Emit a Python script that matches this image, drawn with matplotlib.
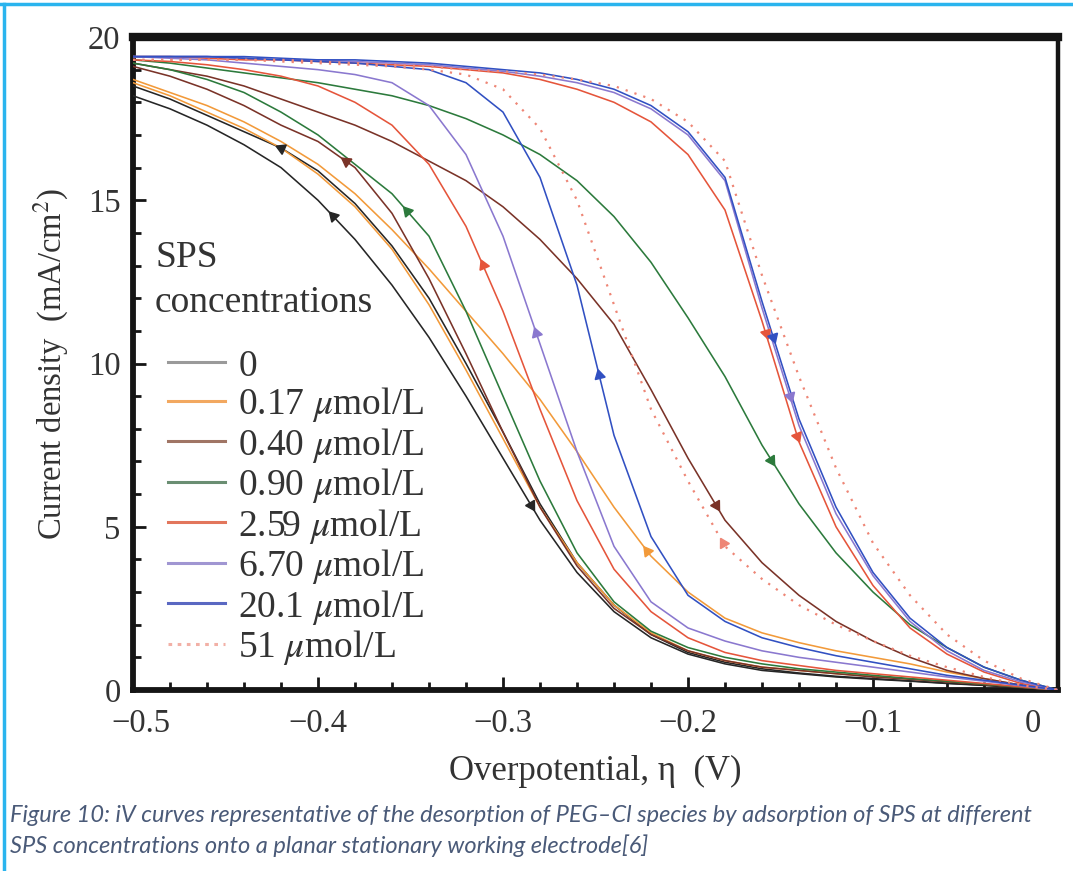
import numpy as np
import matplotlib
matplotlib.use("Agg")
import matplotlib.pyplot as plt
from matplotlib.lines import Line2D
from matplotlib.transforms import ScaledTranslation

plt.rcParams['font.family'] = ['Liberation Serif', 'DejaVu Serif']
plt.rcParams['mathtext.fontset'] = 'stix'

# ---------------- data ----------------
eta = [-0.50, -0.48, -0.46, -0.44, -0.42, -0.40, -0.38, -0.36, -0.34, -0.32,
       -0.30, -0.28, -0.26, -0.24, -0.22, -0.20, -0.18, -0.16, -0.14, -0.12,
       -0.10, -0.08, -0.06, -0.04, -0.02, 0.00]

j0_a = [18.2, 17.8, 17.3, 16.7, 16.0, 15.0, 13.8, 12.4, 10.8, 9.0,
        7.1, 5.2, 3.6, 2.4, 1.6, 1.1, 0.8, 0.6, 0.5, 0.4,
        0.33, 0.27, 0.2, 0.14, 0.07, 0.0]
j0_b = [18.5, 18.1, 17.6, 17.1, 16.6, 15.9, 14.9, 13.6, 12.0, 10.0,
        7.9, 5.7, 3.9, 2.6, 1.7, 1.15, 0.85, 0.65, 0.52, 0.42,
        0.35, 0.28, 0.21, 0.15, 0.08, 0.0]
j017_f = [18.6, 18.2, 17.7, 17.2, 16.6, 15.8, 14.8, 13.5, 11.8, 9.8,
          7.7, 5.6, 3.9, 2.6, 1.75, 1.2, 0.9, 0.7, 0.6, 0.5,
          0.42, 0.34, 0.26, 0.18, 0.09, 0.0]
j017_r = [18.7, 18.3, 17.9, 17.4, 16.8, 16.1, 15.2, 14.1, 12.9, 11.6,
          10.3, 8.9, 7.3, 5.6, 4.1, 3.0, 2.2, 1.75, 1.45, 1.2,
          1.0, 0.8, 0.55, 0.35, 0.15, 0.0]
j040_f = [19.1, 18.8, 18.4, 17.9, 17.3, 16.8, 16.0, 14.6, 12.6, 10.3,
          7.9, 5.6, 3.8, 2.5, 1.7, 1.2, 0.9, 0.7, 0.6, 0.5,
          0.4, 0.33, 0.25, 0.17, 0.08, 0.0]
j040_r = [19.2, 19.0, 18.8, 18.5, 18.1, 17.7, 17.3, 16.8, 16.2, 15.6,
          14.8, 13.8, 12.6, 11.2, 9.2, 7.1, 5.2, 3.9, 2.9, 2.1,
          1.5, 1.0, 0.6, 0.35, 0.15, 0.0]
j090_f = [19.2, 19.0, 18.7, 18.3, 17.7, 17.0, 16.1, 15.2, 13.9, 11.6,
          9.0, 6.4, 4.2, 2.7, 1.8, 1.3, 1.0, 0.8, 0.65, 0.55,
          0.45, 0.35, 0.27, 0.18, 0.09, 0.0]
j090_r = [19.3, 19.2, 19.05, 18.9, 18.75, 18.6, 18.4, 18.2, 17.9, 17.5,
          17.0, 16.4, 15.6, 14.5, 13.1, 11.4, 9.6, 7.5, 5.7, 4.2,
          3.0, 2.0, 1.3, 0.7, 0.3, 0.0]
j259_f = [19.3, 19.25, 19.15, 19.0, 18.8, 18.5, 18.0, 17.3, 16.1, 14.2,
          11.6, 8.6, 5.8, 3.7, 2.4, 1.6, 1.15, 0.9, 0.75, 0.6,
          0.5, 0.4, 0.3, 0.2, 0.1, 0.0]
j259_r = [19.4, 19.4, 19.35, 19.3, 19.3, 19.25, 19.2, 19.15, 19.1, 19.0,
          18.9, 18.7, 18.4, 18.0, 17.4, 16.4, 14.7, 11.3, 7.6, 5.0,
          3.2, 1.9, 1.1, 0.55, 0.2, 0.0]
j670_f = [19.4, 19.35, 19.3, 19.2, 19.1, 19.0, 18.85, 18.6, 17.9, 16.4,
          13.9, 10.6, 7.3, 4.4, 2.7, 1.9, 1.5, 1.2, 1.0, 0.85,
          0.7, 0.55, 0.4, 0.27, 0.13, 0.0]
j670_r = [19.4, 19.4, 19.4, 19.35, 19.3, 19.3, 19.25, 19.2, 19.15, 19.05,
          18.95, 18.8, 18.6, 18.3, 17.8, 17.0, 15.6, 11.7, 8.1, 5.4,
          3.5, 2.1, 1.2, 0.6, 0.25, 0.0]
j201_f = [19.4, 19.4, 19.4, 19.35, 19.3, 19.25, 19.2, 19.1, 19.0, 18.6,
          17.7, 15.7, 12.4, 7.8, 4.7, 2.9, 2.1, 1.6, 1.3, 1.05,
          0.85, 0.65, 0.45, 0.3, 0.15, 0.0]
j201_r = [19.4, 19.4, 19.4, 19.4, 19.35, 19.3, 19.3, 19.25, 19.2, 19.1,
          19.0, 18.9, 18.7, 18.4, 17.9, 17.1, 15.7, 11.9, 8.3, 5.6,
          3.6, 2.2, 1.3, 0.7, 0.3, 0.0]
j51_f = [19.3, 19.3, 19.3, 19.3, 19.25, 19.2, 19.15, 19.1, 19.0, 18.85,
         18.4, 17.2, 15.0, 11.8, 8.6, 6.4, 4.4, 3.4, 2.6, 2.0,
         1.5, 1.05, 0.7, 0.4, 0.15, 0.0]
j51_r = [19.3, 19.3, 19.3, 19.3, 19.3, 19.25, 19.2, 19.15, 19.1, 19.0,
         18.95, 18.85, 18.7, 18.5, 18.1, 17.4, 16.2, 12.7, 9.6, 6.8,
         4.5, 2.9, 1.7, 0.9, 0.35, 0.0]

labels = ['0', '0.17 $\\mu$mol/L', '0.40 $\\mu$mol/L', '0.90 $\\mu$mol/L',
          '2.59 $\\mu$mol/L', '6.70 $\\mu$mol/L', '20.1 $\\mu$mol/L', '51 $\\mu$mol/L']
legend_title = ['SPS', 'concentrations']
curve_colors = ['#262626', '#f29a3a', '#7a3328', '#2c7a3c', '#e5553b',
                '#8a78cf', '#3150c2', '#ee8676']
legend_colors = ['#9a9a9a', '#f2a860', '#a07565', '#6a8e72', '#e2765c',
                 '#a096d2', '#5a68c2', '#f2b0a6']
branches = [(j0_a, j0_b), (j017_f, j017_r), (j040_f, j040_r), (j090_f, j090_r),
            (j259_f, j259_r), (j670_f, j670_r), (j201_f, j201_r), (j51_f, j51_r)]

# direction arrows: (series index, branch index, eta position, direction +1 toward more negative eta)
arrows = [(0, 1, -0.420, 1), (0, 0, -0.392, 1), (0, 0, -0.285, -1),
          (2, 0, -0.385, 1), (3, 0, -0.352, 1), (4, 0, -0.311, 1),
          (5, 0, -0.282, 1), (6, 0, -0.248, 1), (1, 1, -0.222, 1),
          (7, 0, -0.181, 1), (4, 1, -0.158, -1), (6, 1, -0.154, -1),
          (5, 1, -0.145, -1), (4, 1, -0.141, -1), (3, 1, -0.155, -1),
          (2, 1, -0.185, -1)]

xticks = [-0.5, -0.4, -0.3, -0.2, -0.1, 0.0]
xticklabels = ['\u22120.5', '\u22120.4', '\u22120.3', '\u22120.2', '\u22120.1', '0']
yticks = [0, 5, 10, 15, 20]

caption = ("Figure 10: iV curves representative of the desorption of PEG\u2013Cl species by adsorption of SPS at different\n"
           "SPS concentrations onto a planar stationary working electrode[6]")

# ---------------- figure ----------------
W, H = 1073, 871
fig = plt.figure(figsize=(W / 100, H / 100), dpi=100)
ax = fig.add_axes([133 / W, 1 - 690 / H, (1058 - 133) / W, (690 - 37) / H])
ax.set_xlim(-0.5, 0.0)
ax.set_ylim(0, 20)

for i, (fwd, rev) in enumerate(branches):
    ls = (0, (1, 3.2)) if i == 7 else '-'
    lw = 1.6 if i == 7 else 1.15
    ax.plot(eta, fwd, color=curve_colors[i], lw=lw, ls=ls, zorder=3 + i * 0.1)
    ax.plot(eta, rev, color=curve_colors[i], lw=lw, ls=ls, zorder=3 + i * 0.1)

# triangles showing scan direction
fig.canvas.draw()
for (si, bi, e0, d) in arrows:
    jj = branches[si][bi]
    y0 = np.interp(e0, eta, jj)
    y1 = np.interp(e0 - 0.004 * d, eta, jj)
    p0 = ax.transData.transform((e0, y0))
    p1 = ax.transData.transform((e0 - 0.004 * d, y1))
    ang = np.degrees(np.arctan2(p1[1] - p0[1], p1[0] - p0[0]))
    ax.plot([e0], [y0], marker=(3, 0, ang - 90), ms=8.5, color=curve_colors[si],
            mec=curve_colors[si], zorder=6)

# axes styling
for side in ['left', 'bottom', 'right']:
    ax.spines[side].set_linewidth(4.2)
    ax.spines[side].set_color('#151515')
ax.spines['top'].set_linewidth(6.0)
ax.spines['top'].set_color('#151515')
ax.spines['right'].set_linewidth(3.2)

ax.set_xticks(xticks)
ax.set_xticklabels(xticklabels)
ax.set_yticks(yticks)
ax.set_xticks(np.arange(-0.5, 0.001, 0.02), minor=True)
ax.set_yticks(np.arange(0, 20.01, 1), minor=True)
ax.tick_params(which='both', direction='in', top=False, right=False, colors='#151515',
               labelcolor='#333333', labelsize=23.5)
ax.tick_params(which='major', length=9.5, width=2.0)
ax.tick_params(which='minor', length=5.5, width=2.0)
ax.tick_params(axis='x', which='major', pad=13)
ax.tick_params(axis='y', which='major', pad=9)

# the "0" label sits left of its tick in the reference
lab0 = ax.get_xticklabels()[-1]
lab0.set_transform(lab0.get_transform() + ScaledTranslation(-25 / 100, 0, fig.dpi_scale_trans))
# the first x label sits a little to the right of the spine in the reference
labm = ax.get_xticklabels()[0]
labm.set_transform(labm.get_transform() + ScaledTranslation(8 / 100, 0, fig.dpi_scale_trans))

ax.set_xlabel('Overpotential, \u03b7  (V)', fontsize=25, color='#333333', labelpad=12)
ax.set_ylabel('Current density  (mA/cm$^2$)', fontsize=23.5, color='#333333', labelpad=12)

# legend title lines
ax.text((155 - 133) / 925, (690 - 258) / 653, legend_title[0], transform=ax.transAxes,
        fontsize=27, color='#333333', va='center', ha='left')
ax.text((155 - 133) / 925, (690 - 303) / 653, legend_title[1], transform=ax.transAxes,
        fontsize=27, color='#333333', va='center', ha='left')

handles = [Line2D([], [], color=legend_colors[i], lw=2.2,
                  ls=(0, (1.2, 1.8)) if i == 7 else '-') for i in range(8)]
leg = ax.legend(handles, labels, loc='upper left',
                bbox_to_anchor=((168 - 133) / 925, (690 - 349) / 653), frameon=False,
                fontsize=27, handlelength=1.52, handletextpad=0.35,
                labelspacing=0.04, borderpad=0.0, borderaxespad=0.0)
for t in leg.get_texts():
    t.set_color('#333333')

# caption and page border
fig.text(10 / W, 1 - 831 / H, caption, fontsize=17, family=['Lato', 'DejaVu Sans'],
         style='italic', color='#4a5a78', va='center', ha='left', linespacing=1.4)
fig.add_artist(Line2D([0, 1], [1 - 4 / H, 1 - 4 / H], color='#2ab4ee', lw=2.5,
                      transform=fig.transFigure))
fig.add_artist(Line2D([4 / W, 4 / W], [0, 1 - 4 / H], color='#2ab4ee', lw=2.5,
                      transform=fig.transFigure))

fig.savefig('out.png', dpi=100)
